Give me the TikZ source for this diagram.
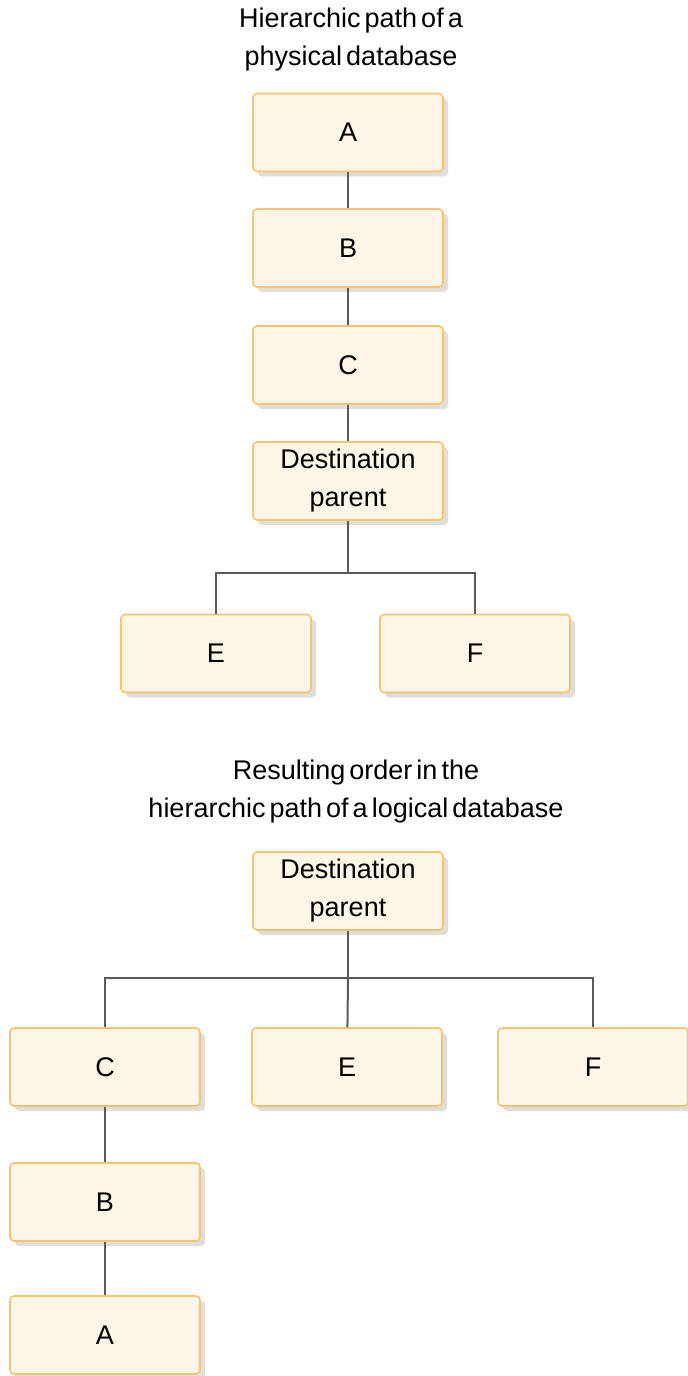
\documentclass[tikz,border=0pt]{standalone}
\usepackage{fontspec}
\setmainfont{Liberation Sans}
\usetikzlibrary{shadows}

\definecolor{boxfill}{HTML}{FDF5E5}
\definecolor{boxline}{HTML}{F7C46C}
\definecolor{linkgray}{HTML}{5A5A5A}

\newcommand{\tightwords}{\spaceskip=0.15em plus 0.05em\relax}

\begin{document}
\begin{tikzpicture}[x=0.5pt, y=-0.5pt, font=\fontsize{13.5}{19}\selectfont,
    segbox/.style={draw=boxline, fill=boxfill, line width=0.8pt, rounded corners=2pt,
      minimum width=95pt, minimum height=39pt, inner sep=0pt, align=center,
      drop shadow={shadow xshift=2.5pt, shadow yshift=-2.5pt, fill=black!13, opacity=1}},
    link/.style={draw=linkgray, line width=1pt},
    caption/.style={align=center, inner sep=0pt}]

  \useasboundingbox (0,0) rectangle (688,1376);

  % ---- physical database ----
  \node[caption] (cap1) at (351,40) {\tightwords Hierarchic path of a\\\tightwords physical database};

  \node[segbox] (a1) at (348,132.5) {A};
  \node[segbox] (b1) at (348,248) {B};
  \node[segbox] (c1) at (348,365) {C};
  \node[segbox] (dp1) at (348,481) {Destination\\parent};
  \node[segbox] (e1) at (216,653.5) {E};
  \node[segbox] (f1) at (475,653.5) {F};

  \draw[link] (a1) -- (b1);
  \draw[link] (b1) -- (c1);
  \draw[link] (c1) -- (dp1);

  % branch to the children
  \coordinate (j1) at (348,573);
  \draw[link] (dp1) -- (j1) -| (e1);
  \draw[link] (j1) -| (f1);

  % ---- logical database ----
  \node[caption] (cap2) at (356,792) {\tightwords Resulting order in the\\\tightwords hierarchic path of a logical database};

  \node[segbox] (dp2) at (348,891) {Destination\\parent};
  \node[segbox] (c2) at (105,1067) {C};
  \node[segbox] (e2) at (347,1067) {E};
  \node[segbox] (f2) at (593,1067) {F};
  \node[segbox] (b2) at (105,1202) {B};
  \node[segbox] (a2) at (105,1335) {A};

  \coordinate (j2) at (348,978);
  \draw[link] (dp2) -- (j2) -| (c2);
  \draw[link] (j2) -| (f2);
  \draw[link] (j2) -- (e2);

  \draw[link] (c2) -- (b2);
  \draw[link] (b2) -- (a2);

\end{tikzpicture}
\end{document}
